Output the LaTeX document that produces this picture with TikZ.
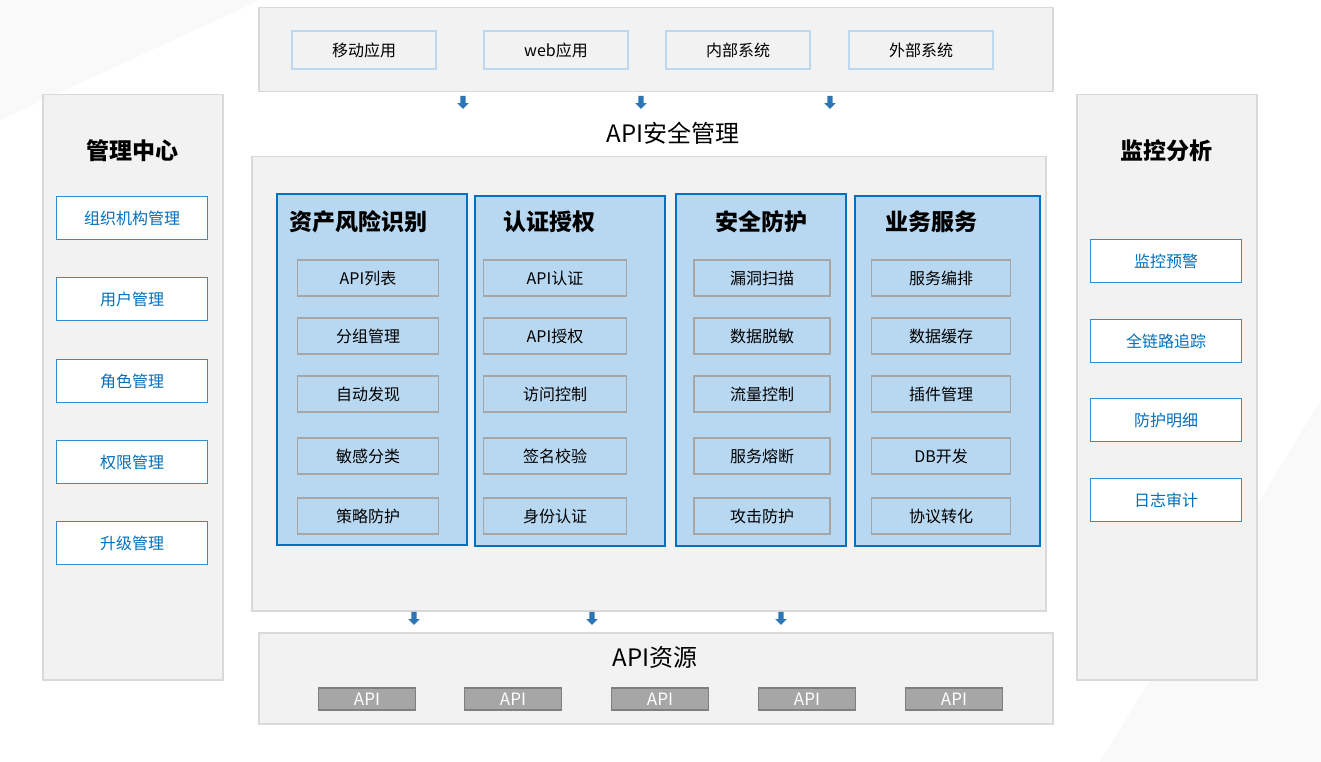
\documentclass[tikz,border=0pt]{standalone}
\usepackage{fontspec}
\setmainfont{Noto Sans CJK SC}
\usetikzlibrary{shapes.arrows}
\definecolor{panel}{HTML}{F2F2F2}
\definecolor{panelb}{HTML}{D9D9D9}
\definecolor{lblue}{HTML}{BDD7EE}
\definecolor{colfill}{HTML}{B8D7F0}
\definecolor{dblue}{HTML}{0070C0}
\definecolor{arr}{HTML}{2E75B6}
\definecolor{itemb}{HTML}{A6A6A6}
\definecolor{apifill}{HTML}{A6A6A6}
\definecolor{apib}{HTML}{7F7F7F}
\tikzset{x=1pt,y=-1pt,
 panelbox/.style={fill=panel,draw=panelb,line width=1.5pt},
 srcbox/.style={fill=panel,draw=lblue,line width=1.2pt,font=\fontsize{16}{16}\selectfont},
 colbox/.style={fill=colfill,draw=dblue,line width=2.2pt},
 itembox/.style={fill=colfill,draw=itemb,line width=1.2pt,font=\fontsize{16}{16}\selectfont},
 sidebox/.style={fill=white,draw=dblue!80,line width=1.2pt,text=dblue,font=\fontsize{16}{16}\selectfont},
 apibox/.style={fill=apifill,draw=apib,line width=1.2pt,text=white,font=\fontsize{17}{17}\selectfont},
 ttl/.style={font=\fontsize{23}{23}\selectfont\bfseries},
 darr/.style={single arrow,shape border rotate=270,fill=arr,draw=none,inner sep=2.5pt,minimum height=13pt,single arrow head extend=3pt,single arrow head indent=0pt}
}
\begin{document}
\begin{tikzpicture}
\fill[white] (0,0) rectangle (1321,762);
\useasboundingbox (0,0) rectangle (1321,762);
\fill[panel!50] (0,0) -- (260,0) -- (0,120) -- cycle;
\fill[panel!50] (1321,400) -- (1321,762) -- (1100,762) -- cycle;
% top
\node[panelbox,minimum width=794pt,minimum height=84pt,anchor=north west] (top) at (258,7) {};
\foreach \n/\x/\t in {s1/364/移动应用,s2/556/web应用,s3/738/内部系统,s4/921/外部系统}
  \node[srcbox,minimum width=144pt,minimum height=38pt] (\n) at (\x,50) {\t};
\foreach \n/\x in {a1/463,a2/641,a3/830}
  \node[darr] (\n) at (\x,101) {};
\node[font=\fontsize{24}{24}\selectfont] (sec) at (673,133) {API安全管理};
% middle
\node[panelbox,minimum width=794pt,minimum height=454pt,anchor=north west] (mid) at (251,156) {};
\node[colbox,minimum width=190pt,minimum height=351pt,anchor=north west] (c1) at (276,193) {};
\node[colbox,minimum width=190pt,minimum height=350pt,anchor=north west] (c2) at (474,195) {};
\node[colbox,minimum width=170pt,minimum height=352pt,anchor=north west] (c3) at (675,193) {};
\node[colbox,minimum width=185pt,minimum height=350pt,anchor=north west] (c4) at (854,195) {};
\node[ttl] (t1) at (358,222) {资产风险识别};
\node[ttl] (t2) at (549,222) {认证授权};
\node[ttl] (t3) at (761,222) {安全防护};
\node[ttl] (t4) at (931,222) {业务服务};
\foreach \c/\x/\w/\la/\lb/\lc/\ld/\le in {
  1/368/141/API列表/分组管理/自动发现/敏感分类/策略防护,
  2/555/143/API认证/API授权/访问控制/签名校验/身份认证,
  3/762/136/漏洞扫描/数据脱敏/流量控制/服务熔断/攻击防护,
  4/941/139/服务编排/数据缓存/插件管理/DB开发/协议转化}{
  \node[itembox,minimum width=\w pt,minimum height=36pt] (i\c a) at (\x,278) {\la};
  \node[itembox,minimum width=\w pt,minimum height=36pt] (i\c b) at (\x,336) {\lb};
  \node[itembox,minimum width=\w pt,minimum height=36pt] (i\c c) at (\x,394) {\lc};
  \node[itembox,minimum width=\w pt,minimum height=36pt] (i\c d) at (\x,456) {\ld};
  \node[itembox,minimum width=\w pt,minimum height=36pt] (i\c e) at (\x,516) {\le};
}
\foreach \n/\x in {b1/414,b2/592,b3/781}
  \node[darr] (\n) at (\x,617) {};
% bottom
\node[panelbox,minimum width=794pt,minimum height=91pt,anchor=north west] (bot) at (258,632) {};
\node[font=\fontsize{24}{24}\selectfont] (res) at (655,657) {API资源};
\foreach \n/\x in {p1/367,p2/513,p3/660,p4/807,p5/954}
  \node[apibox,minimum width=97pt,minimum height=22pt,inner sep=0pt] (\n) at (\x,699) {API};
% left
\node[panelbox,minimum width=180pt,minimum height=585pt,anchor=north west] (left) at (42,94) {};
\node[ttl] (lt) at (132,151) {管理中心};
\foreach \n/\y/\t in {l1/218/组织机构管理,l2/299/用户管理,l3/381/角色管理,l4/462/权限管理,l5/543/升级管理}
  \node[sidebox,minimum width=151pt,minimum height=43pt] (\n) at (132,\y) {\t};
% right
\node[panelbox,minimum width=180pt,minimum height=585pt,anchor=north west] (right) at (1076,94) {};
\node[ttl] (rt) at (1166,151) {监控分析};
\foreach \n/\y/\t in {r1/261/监控预警,r2/341/全链路追踪,r3/420/防护明细,r4/500/日志审计}
  \node[sidebox,minimum width=151pt,minimum height=43pt] (\n) at (1166,\y) {\t};
\end{tikzpicture}
\end{document}
